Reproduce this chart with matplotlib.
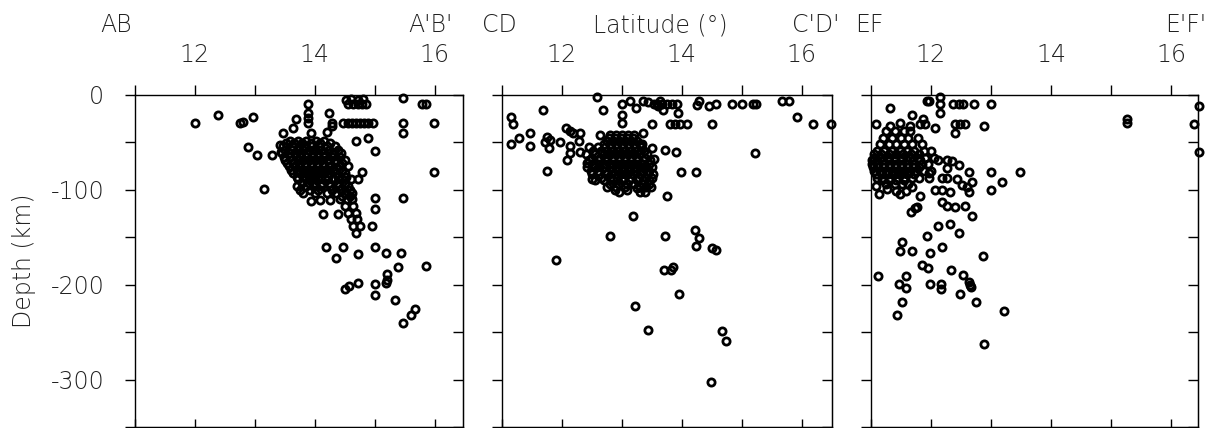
import numpy as np
import matplotlib
matplotlib.use("Agg")
import matplotlib.pyplot as plt
from matplotlib.ticker import FixedLocator, FuncFormatter

plt.rcParams['font.family'] = ['DejaVu Sans']
plt.rcParams['font.weight'] = 200

# ---- data: (latitude, depth) read off the three cross-sections ----
# section AB - A'B'
ab_lat = [12.0, 12.39, 12.75, 12.8, 12.97, 13.88, 13.88, 13.88, 13.88, 13.69, 13.64, 13.46, 13.93,
          14.23, 14.29, 14.29, 14.2, 14.52, 14.6, 14.72, 14.8, 14.56, 14.64, 14.72, 14.78, 14.86,
          14.47, 14.55, 14.62, 14.69, 14.75, 14.82, 14.88, 14.97,
          15.47, 15.47, 15.47, 15.78, 15.86, 15.98, 15.98,
          14.69, 14.88, 15.0, 14.78, 14.72, 15.0, 15.47, 15.0, 14.95,
          12.89, 13.03, 13.28, 13.15, 13.42, 13.44, 13.94, 14.08, 14.25,
          14.14, 14.39, 14.19, 14.47, 14.36, 14.72, 15.0, 15.18, 15.44,
          15.39, 15.86, 15.2, 14.5, 14.57, 14.72, 15.0, 15.0, 15.18, 15.2, 15.33, 15.47, 15.6, 15.67]
ab_dep = [-29, -21, -30, -28, -23, -9.5, -19, -24, -30, -25, -35, -40, -40,
          -19, -29, -33, -39, -5, -4, -5, -4, -9.5, -9.5, -9.5, -9.5, -9.5,
          -29, -29, -29, -29, -29, -29, -29, -29,
          -3.5, -29, -40, -9.5, -9.5, -29, -81,
          -49, -45, -59, -81, -89, -109, -109, -120, -138,
          -55, -63, -63, -99, -53, -60, -112, -111, -111,
          -125, -125, -160, -160, -172, -168, -160, -167, -167,
          -181, -180, -189, -205, -201, -198, -199, -211, -198, -195, -216, -240, -232, -226]

# dense swarm of AB, one row per depth
ab_rows = {
    -48: [13.58, 13.72, 13.86, 14.02, 14.15],
    -51: [13.52, 13.65, 13.79, 13.93, 14.08, 14.25],
    -54: [13.47, 13.62, 13.73, 13.84, 13.96, 14.07, 14.21, 14.34],
    -58: [13.5, 13.61, 13.71, 13.81, 13.91, 14.01, 14.11, 14.23, 14.38],
    -61: [13.45, 13.56, 13.66, 13.77, 13.86, 13.97, 14.06, 14.16, 14.3, 14.44],
    -65: [13.48, 13.58, 13.68, 13.76, 13.86, 13.96, 14.06, 14.16, 14.28, 14.42],
    -68: [13.5, 13.61, 13.71, 13.8, 13.91, 14.01, 14.11, 14.22, 14.36, 14.5],
    -72: [13.53, 13.63, 13.73, 13.83, 13.93, 14.03, 14.13, 14.23, 14.33, 14.46],
    -75: [13.56, 13.66, 13.76, 13.86, 13.96, 14.06, 14.16, 14.26, 14.4, 14.55],
    -79: [13.6, 13.7, 13.8, 13.9, 14.0, 14.1, 14.2, 14.3, 14.45],
    -82: [13.64, 13.76, 13.86, 13.96, 14.06, 14.16, 14.26, 14.36, 14.5],
    -86: [13.7, 13.8, 13.9, 14.0, 14.1, 14.22, 14.38, 14.52],
    -89: [13.72, 13.86, 13.96, 14.06, 14.17, 14.31, 14.45, 14.6],
    -93: [13.78, 13.9, 14.0, 14.12, 14.24, 14.37, 14.5],
    -96: [13.7, 13.86, 13.97, 14.11, 14.26, 14.41, 14.55],
    -100: [13.76, 13.92, 14.06, 14.28, 14.44, 14.58],
    -103: [13.8, 14.0, 14.2, 14.36, 14.5, 14.62],
    -107: [14.46, 14.58],
    -110: [14.42, 14.53, 14.62],
    -117: [14.5, 14.63],
    -124: [14.56, 14.68],
    -131: [14.6, 14.71],
    -138: [14.64, 14.75],
    -145: [14.68],
}

# section CD - C'D'
cd_lat = [11.15, 11.19, 11.28, 11.15, 11.47, 11.47, 11.68,
          11.75, 11.72, 11.8, 11.78, 11.97, 12.07, 12.14, 12.19, 12.3, 12.29, 12.14, 12.14, 12.08, 12.31, 11.75,
          12.58, 12.69, 12.63, 13.0, 13.0, 13.0, 13.14, 13.23,
          13.36, 13.44, 13.53, 13.58, 13.64, 13.67, 13.75, 13.83, 13.92, 13.6,
          13.68, 13.93, 13.5, 13.8, 13.89, 13.97, 14.08, 13.35, 13.33, 13.5, 13.53, 13.72, 13.9,
          13.99, 14.24, 13.75, 13.18, 12.8, 13.72, 14.22, 14.29, 14.23, 14.5, 14.57,
          14.28, 14.25, 14.46, 14.57, 14.5, 14.83, 15.0, 15.19, 15.24, 15.22, 15.67, 15.78, 15.92, 16.19, 16.48,
          11.9, 13.71, 13.82, 13.86, 13.96, 13.22, 13.44, 14.67, 14.74, 14.49,
          12.42, 12.5, 12.89, 13.08, 13.25]
cd_dep = [-23, -31, -45, -52, -40, -54, -16,
          -44, -50, -47, -56, -50, -35, -38, -40, -40, -48, -54, -61, -68, -60, -80,
          -2, -16, -42, -9.5, -21, -30, -6, -14,
          -6, -7, -9.5, -9.5, -6, -9.5, -9.5, -9.5, -9.5, -12,
          -16, -19, -31, -31, -31, -31, -31, -40, -52, -56, -67, -58, -60,
          -81, -81, -106, -128, -149, -149, -142, -151, -159, -161, -163,
          -6, -10.5, -12, -9.5, -31, -9.5, -9.5, -9.5, -9.5, -61, -6, -6, -23, -31, -31,
          -174, -184, -184, -181, -210, -222, -248, -249, -259, -303,
          -72, -89, -100, -100, -98]

cd_rows = {
    -42: [12.8, 12.9, 13.0, 13.1, 13.2],
    -45: [12.78, 12.88, 12.98, 13.08, 13.18],
    -48: [12.75, 12.85, 12.95, 13.05, 13.15, 13.25],
    -52: [12.7, 12.8, 12.9, 13.0, 13.1, 13.2, 13.3],
    -55: [12.45, 12.6, 12.72, 12.82, 12.92, 13.02, 13.12, 13.22, 13.32],
    -59: [12.52, 12.66, 12.76, 12.86, 12.96, 13.06, 13.16, 13.26, 13.37],
    -62: [12.4, 12.55, 12.7, 12.8, 12.9, 13.0, 13.1, 13.2, 13.3, 13.42],
    -66: [12.5, 12.64, 12.76, 12.86, 12.96, 13.06, 13.16, 13.26, 13.38],
    -69: [12.45, 12.6, 12.72, 12.85, 12.95, 13.05, 13.15, 13.25, 13.35, 13.47],
    -73: [12.5, 12.62, 12.74, 12.85, 12.95, 13.05, 13.15, 13.25, 13.35, 13.45],
    -76: [12.42, 12.55, 12.68, 12.8, 12.9, 13.0, 13.1, 13.2, 13.3, 13.4, 13.5],
    -80: [12.48, 12.6, 12.72, 12.84, 12.94, 13.04, 13.14, 13.24, 13.36, 13.46],
    -83: [12.5, 12.62, 12.75, 12.88, 12.98, 13.08, 13.18, 13.3, 13.42, 13.52],
    -87: [12.65, 12.8, 12.92, 13.04, 13.16, 13.28, 13.4, 13.5],
    -90: [12.55, 12.7, 12.85, 13.0, 13.12, 13.25, 13.35, 13.45],
    -94: [12.8, 12.95, 13.08, 13.2, 13.35, 13.45],
    -97: [12.75, 12.9, 13.05, 13.3, 13.4, 13.48],
    -102: [12.95, 13.3, 13.38],
}

# section EF - E'F'
ef_lat = [11.31, 11.09, 11.93, 11.97, 12.15, 12.15, 12.15, 12.37, 12.46, 12.53, 12.72, 13.0,
          11.69, 11.87, 11.32, 11.48, 11.65, 11.82, 11.9, 12.07, 12.4, 12.48, 12.57, 12.4, 12.88,
          15.26, 15.26, 16.47, 16.38, 16.47,
          12.12, 12.26, 12.35, 12.27, 12.46, 12.64, 13.0, 13.48, 13.18, 13.0,
          12.18, 12.26, 12.43, 12.51, 12.6, 12.68, 12.64, 11.96, 11.96, 12.07, 12.18, 12.32,
          11.09, 11.14, 11.26, 11.48, 11.69, 11.82, 11.66, 11.73, 11.77,
          12.18, 12.26, 12.4, 12.57, 12.69, 12.12, 12.32, 12.46, 11.94,
          11.51, 11.48, 11.69, 11.99, 12.18, 12.87,
          11.12, 11.59, 11.85, 11.95, 12.34, 12.53, 11.47, 11.59, 11.98, 12.17, 12.17,
          12.63, 12.65, 12.67, 12.49, 12.75, 13.22, 11.51, 11.44, 12.89]
ef_dep = [-14, -31, -6, -6, -2, -9.5, -19, -9.5, -9.5, -9.5, -9.5, -9.5,
          -21, -25, -33, -29, -33, -31, -31, -35, -31, -31, -31, -40, -33,
          -25, -30, -12, -31, -60,
          -68, -68, -70, -77, -74, -81, -81, -81, -92, -100,
          -88, -88, -89, -95, -97, -92, -102, -82, -88, -100, -100, -102,
          -96, -104, -99, -104, -97, -106, -123, -119, -118,
          -113, -117, -118, -117, -128, -138, -136, -146, -149,
          -155, -164, -164, -167, -160, -170,
          -191, -191, -179, -182, -185, -190, -199, -203, -199, -199, -205,
          -197, -200, -202, -210, -218, -228, -218, -232, -262]

ef_rows = {
    -38: [11.25, 11.4, 11.55, 11.65],
    -45: [11.2, 11.35, 11.5, 11.62, 11.78],
    -52: [11.15, 11.3, 11.42, 11.55, 11.68, 11.85],
    -59: [11.1, 11.22, 11.35, 11.48, 11.6, 11.72, 11.88, 12.0],
    -62: [11.05, 11.17, 11.3, 11.42, 11.54, 11.66, 11.8],
    -66: [11.05, 11.15, 11.28, 11.4, 11.52, 11.65, 11.78, 11.9, 12.05],
    -69: [11.02, 11.1, 11.2, 11.3, 11.4, 11.5, 11.6, 11.7, 11.82],
    -73: [11.02, 11.12, 11.22, 11.32, 11.42, 11.52, 11.62, 11.72, 11.85, 11.95],
    -76: [11.04, 11.1, 11.2, 11.3, 11.4, 11.5, 11.6, 11.7, 11.8],
    -80: [11.05, 11.15, 11.25, 11.35, 11.45, 11.55, 11.65, 11.75, 11.88, 12.0],
    -83: [11.08, 11.18, 11.28, 11.4, 11.5, 11.6, 11.72],
    -87: [11.1, 11.2, 11.32, 11.45, 11.55, 11.68, 11.8],
    -90: [11.18, 11.3, 11.42, 11.55],
    -94: [11.25, 11.4, 11.52, 11.62],
    -101: [11.42, 11.58],
}

top_left = ["AB", "CD", "EF"]
top_right = ["A'B'", "C'D'", "E'F'"]


def flatten(lat, dep, rows):
    x = list(lat)
    y = list(dep)
    for d, lats in rows.items():
        x += lats
        y += [d] * len(lats)
    return x, y


W, H = 1220, 428
fig = plt.figure(figsize=(W / 100, H / 100), dpi=100)

# panel spines in pixels: left, right, and the latitude at the right spine
panels = [(135, 463, 16.47), (501.7, 831.7, 16.5), (871, 1198, 16.45)]
series = [flatten(ab_lat, ab_dep, ab_rows),
          flatten(cd_lat, cd_dep, cd_rows),
          flatten(ef_lat, ef_dep, ef_rows)]

txt = dict(fontsize=17, color='#222222', fontweight=200)
xt = [11, 12, 13, 14, 15, 16]
yt = [0, -50, -100, -150, -200, -250, -300, -350]

for i, ((l, r, xmax), (x, y)) in enumerate(zip(panels, series)):
    ax = fig.add_axes([l / W, 1 - 427 / H, (r - l) / W, 332 / H])
    # hollow rings: overlapping events merge into solid black swarms
    ax.plot(x, y, 'o', mfc='none', mec='black', ms=5.2, mew=2.0, clip_on=False, zorder=3)
    ax.set_xlim(11, xmax)
    ax.set_ylim(-350, 0)
    for s in ax.spines.values():
        s.set_linewidth(1.0)

    # top + left: outward ticks with labels
    ax.xaxis.set_ticks_position('top')
    ax.yaxis.set_ticks_position('left')
    ax.xaxis.set_major_locator(FixedLocator(xt))
    ax.yaxis.set_major_locator(FixedLocator(yt))
    ax.xaxis.set_major_formatter(FuncFormatter(lambda v, p: f"{int(v)}" if int(v) % 2 == 0 else ""))
    if i == 0:
        ax.yaxis.set_major_formatter(FuncFormatter(lambda v, p: f"{int(v)}" if int(v) % 100 == 0 else ""))
    else:
        ax.yaxis.set_major_formatter(FuncFormatter(lambda v, p: ""))
    ax.tick_params(axis='x', direction='out', length=7, width=1, pad=13,
                   labelsize=17, labelcolor='#222222')
    ax.tick_params(axis='y', direction='out', length=7, width=1, pad=15,
                   labelsize=17, labelcolor='#222222')

    # bottom + right: inward ticks, no labels
    bx = ax.secondary_xaxis('bottom')
    bx.set_xticks(xt)
    bx.tick_params(direction='in', length=6, width=1, labelbottom=False)
    ry = ax.secondary_yaxis('right')
    ry.set_yticks(yt)
    ry.tick_params(direction='in', length=7, width=1, labelright=False)

fig.text(24 / W, 1 - 261 / H, "Depth (km)", rotation=90, ha='center', va='center', **txt)

yy = 1 - 25 / H
fig.text(100 / W, yy, top_left[0], ha='left', va='center', **txt)
fig.text(453 / W, yy, top_right[0], ha='right', va='center', **txt)
fig.text(482 / W, yy, top_left[1], ha='left', va='center', **txt)
fig.text(660 / W, yy, "Latitude (°)", ha='center', va='center', **txt)
fig.text(792 / W, yy, top_right[1], ha='left', va='center', **txt)
fig.text(855 / W, yy, top_left[2], ha='left', va='center', **txt)
fig.text(1165 / W, yy, top_right[2], ha='left', va='center', **txt)

fig.savefig("out.png", dpi=100)
